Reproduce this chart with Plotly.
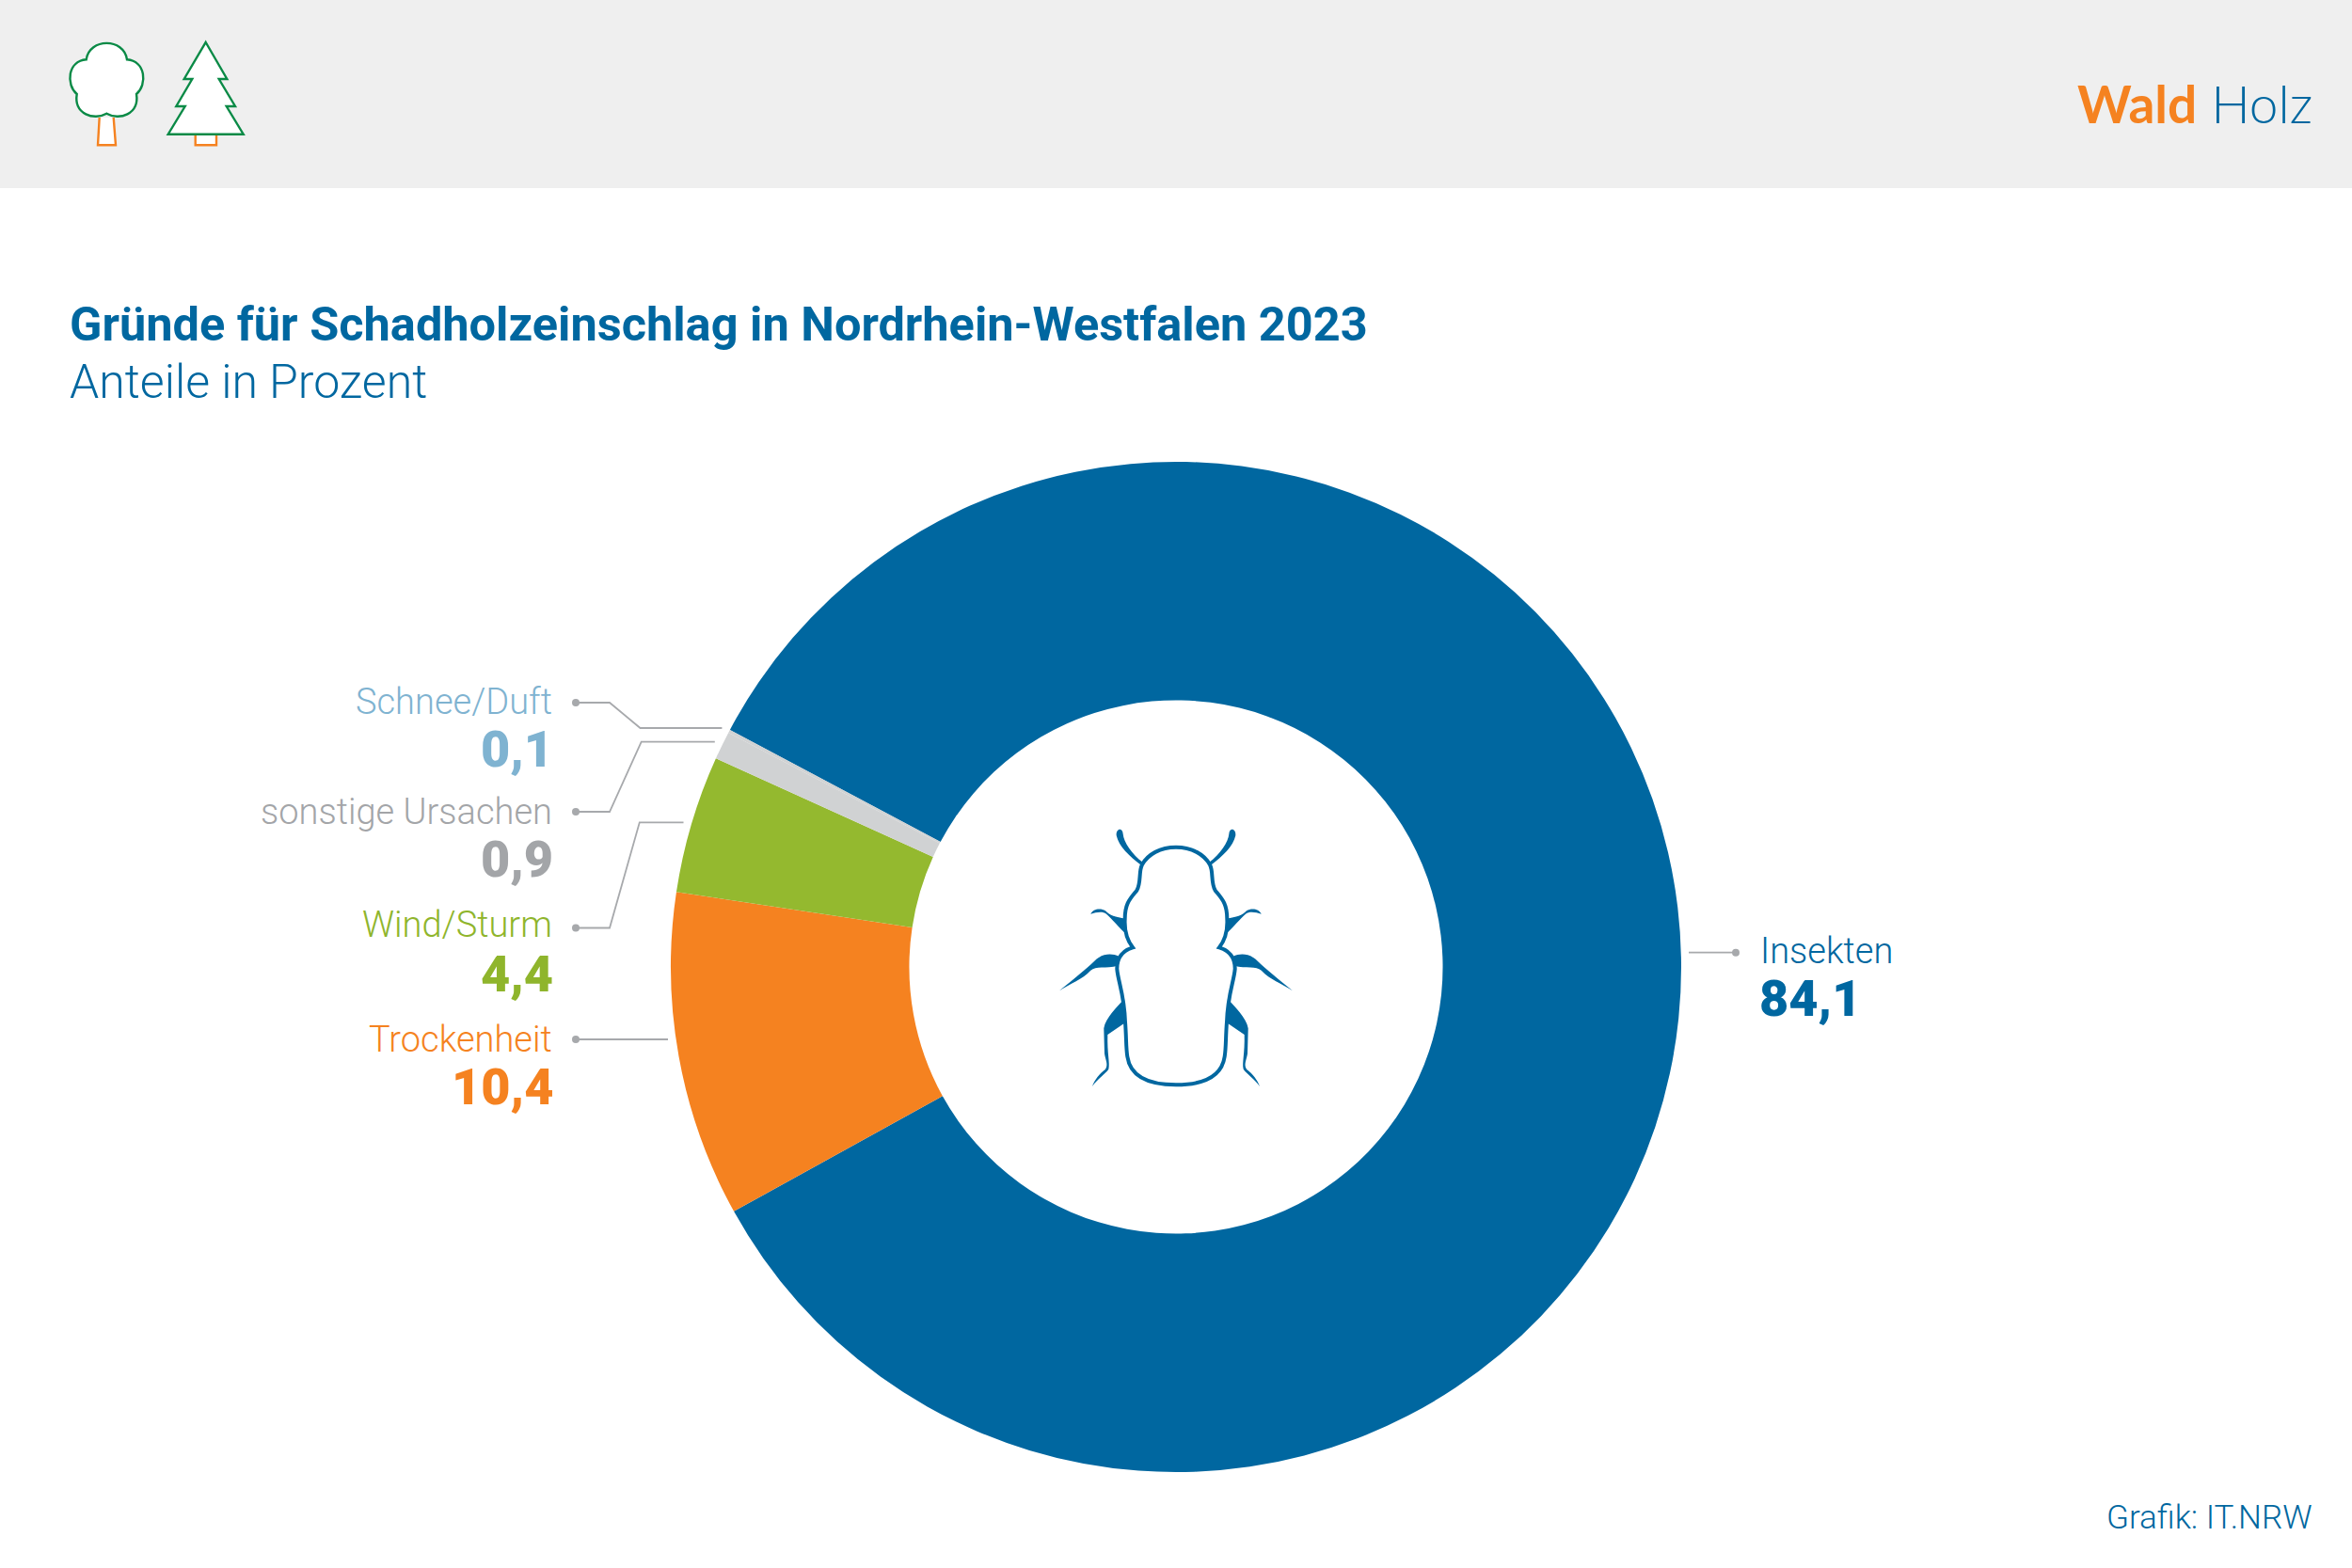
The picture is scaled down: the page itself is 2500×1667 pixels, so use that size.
import re
import plotly.graph_objects as go

# Werte
categories = ['Insekten', 'Trockenheit', 'Wind/Sturm', 'sonstige Ursachen', 'Schnee/Duft']
values = [84.1, 10.4, 4.4, 0.9, 0.1]
value_labels = ['84,1', '10,4', '4,4', '0,9', '0,1']
slice_colors = ['#0067a0', '#f58220', '#94b92f', '#d0d2d3', '#d0d2d3']
label_colors = ['#0067a0', '#f58220', '#8fb52c', '#a3a5a8', '#7fb3d1']

BLUE = '#0067a0'
ORANGE = '#f58220'
TREE_GREEN = '#0a8a46'
LINE_GREY = '#a7a9ac'
FONT = 'Roboto'

W, H = 2500, 1667
CX, CY, R = 1250, 1028, 537


def tf(path, x0, y0, k, mirror=None):
    # zoom coordinates -> page pixels
    def rep(m):
        x, y = float(m.group(1)), float(m.group(2))
        if mirror is not None:
            x = mirror - x
        return f'{x0 + x / k:.1f},{y0 + y / k:.1f}'
    return re.sub(r'(-?[\d.]+),(-?[\d.]+)', rep, path)


fig = go.Figure()

fig.add_trace(go.Pie(
    labels=categories, values=values, sort=False, direction='clockwise', rotation=-62,
    hole=0.528, textinfo='none', hoverinfo='label+value', showlegend=False,
    marker=dict(colors=slice_colors, line=dict(width=0)),
    domain=dict(x=[(CX - R) / W, (CX + R) / W], y=[1 - (CY + R) / H, 1 - (CY - R) / H]),
))

shapes = []


def path(d, fill='rgba(0,0,0,0)', color=None, width=0):
    shapes.append(dict(type='path', path=d, xref='x', yref='y', fillcolor=fill,
                       line=dict(color=color or fill, width=width), layer='above'))


# Kopfband
shapes.append(dict(type='rect', xref='x', yref='y', x0=0, x1=W, y0=0, y1=200,
                   fillcolor='#efefef', line=dict(width=0), layer='below'))

# Baeume
path(tf('M317,375 L312,463 L369,463 L362,375', 0, 0, 3), fill='#ffffff', color=ORANGE, width=2.4)
path(tf('M340,362 C300,385 235,365 245,300 C210,270 215,195 275,190 C285,120 395,120 405,190 '
        'C465,195 470,270 435,300 C445,365 380,385 340,362 Z', 0, 0, 3), fill='#ffffff', color=TREE_GREEN, width=2.4)
path(tf('M623,430 L623,463 L690,463 L690,430', 0, 0, 3), fill='#ffffff', color=ORANGE, width=2.4)
path(tf('M656,135 L724,252 L698,252 L750,339 L722,339 L776,428 L536,428 L590,339 L562,339 L613,252 L587,252 Z',
        0, 0, 3), fill='#ffffff', color=TREE_GREEN, width=2.4)

# Kaefer
body_half = ('M450,122 C400,122 360,145 342,178 C330,200 340,235 325,260 C305,285 287,300 287,350 '
             'C285,385 295,420 312,442 C285,450 262,470 262,510 C265,550 285,590 288,680 '
             'C292,730 290,760 295,790 C305,860 370,880 450,880')
body_right = ('C530,880 595,860 605,790 C610,760 608,730 612,680 C615,590 635,550 638,510 '
              'C638,470 615,450 588,442 C605,420 615,385 613,350 C613,300 595,285 575,260 '
              'C560,235 570,200 558,178 C540,145 500,122 450,122 Z')
path(tf(body_half + ' ' + body_right, 1100, 860, 3), fill='#ffffff', color=BLUE, width=4)
legs = [
    'M340,180 C300,150 268,120 260,85 C258,62 280,58 281,80 C283,105 310,145 344,170 Z',
    'M290,350 L287,395 C265,375 245,350 228,335 C215,325 195,330 178,335 C185,318 210,315 225,325 '
    'C240,340 255,345 290,350 Z',
    'M268,470 C245,460 215,460 190,485 C165,510 120,545 78,580 C115,555 150,545 178,515 '
    'C195,500 225,510 265,500 Z',
    'M285,605 C265,630 225,665 220,700 L222,780 C225,800 235,815 225,830 C205,845 190,865 183,885 '
    'C200,860 225,845 235,830 C240,810 230,780 232,720 L290,680 Z',
]
for leg in legs:
    path(tf(leg, 1100, 860, 3), fill=BLUE)
    path(tf(leg, 1100, 860, 3, mirror=900), fill=BLUE)

# Fuehrungslinien
leaders = [
    [(612, 747), (648, 747), (680.5, 774), (767.4, 774)],
    [(612, 863), (648, 863), (681.7, 788.7), (759.8, 788.7)],
    [(612, 986.5), (648, 986.5), (679.8, 874.3), (726.5, 874.3)],
    [(612, 1105), (710, 1105)],
    [(1845, 1012.7), (1795, 1012.7)],
]
for pts in leaders:
    d = 'M' + ' L'.join(f'{x},{y}' for x, y in pts)
    path(d, color=LINE_GREY, width=1.8)
    x, y = pts[0]
    shapes.append(dict(type='circle', xref='x', yref='y', x0=x - 4, x1=x + 4, y0=y - 4, y1=y + 4,
                       fillcolor=LINE_GREY, line=dict(width=0), layer='above'))

annotations = []


def text(x, y, s, size, color, anchor='left', weight=400, family=FONT):
    annotations.append(dict(x=x, y=y, xref='x', yref='y', text=s, showarrow=False, xanchor=anchor,
                            yanchor='middle', align=anchor, borderpad=0, bgcolor='rgba(0,0,0,0)',
                            font=dict(family=family, size=size, color=color, weight=weight)))


text(73, 344, 'Gründe für Schadholzeinschlag in Nordrhein-Westfalen 2023', 50.5, BLUE, weight=700)
text(73, 406, 'Anteile in Prozent', 50, BLUE, weight=300)
text(2459, 110, f'<span style="color:{ORANGE};font-weight:700">Wald</span> Holz', 55, BLUE,
     anchor='right', weight=300, family='Lato')
text(2459, 1613, 'Grafik: IT.NRW', 35, BLUE, anchor='right', weight=300)

label_pos = {
    'Schnee/Duft': (588, 746, 796),
    'sonstige Ursachen': (588, 863, 913),
    'Wind/Sturm': (588, 983, 1035),
    'Trockenheit': (588, 1105, 1155),
}
for cat, val, col in zip(categories, value_labels, label_colors):
    if cat == 'Insekten':
        text(1870, 1011, cat, 38, col, weight=300)
        text(1869, 1061, val, 54, col, weight=900)
    else:
        x, y1, y2 = label_pos[cat]
        text(x, y1, cat, 38, col, anchor='right', weight=300)
        text(x + 1, y2, val, 54, col, anchor='right', weight=900)

fig.update_layout(
    width=W, height=H, autosize=False, margin=dict(l=0, r=0, t=0, b=0),
    paper_bgcolor='#ffffff', plot_bgcolor='rgba(0,0,0,0)',
    xaxis=dict(range=[0, W], visible=False, fixedrange=True, domain=[0, 1]),
    yaxis=dict(range=[H, 0], visible=False, fixedrange=True, domain=[0, 1]),
    shapes=shapes, annotations=annotations,
)
# leere Spur, damit die Achsen fuer die Formen existieren
fig.add_trace(go.Scatter(x=[0, W], y=[0, H], mode='markers', marker=dict(opacity=0), hoverinfo='skip', showlegend=False))

fig.write_html("out.html", post_script="document.body.style.margin='0';", config=dict(displayModeBar=False))
